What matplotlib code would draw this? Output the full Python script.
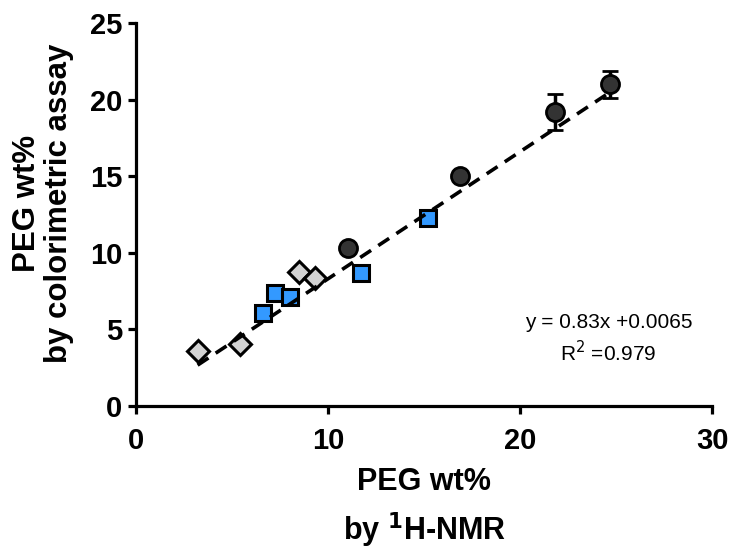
import numpy as np
import matplotlib.pyplot as plt

plt.rcParams['font.family'] = ['Liberation Sans', 'DejaVu Sans']

# grey diamonds
dia_x = [3.24, 5.42, 8.5, 9.32]
dia_y = [3.61, 4.05, 8.72, 8.35]

# blue squares
sq_x = [6.63, 7.24, 8.02, 11.72, 15.19]
sq_y = [6.07, 7.37, 7.11, 8.68, 12.26]

# dark circles with error bars
circ_x = [11.02, 16.87, 21.82, 24.65]
circ_y = [10.3, 15.02, 19.2, 21.0]
circ_err = [0, 0, 1.15, 0.9]

# linear fit
slope = 0.83
intercept = 0.0065
fit_range = [3.2, 24.6]

fig = plt.figure(figsize=(7.32, 5.5), dpi=100)
ax = fig.add_axes([0.186, 0.262, 0.787, 0.696])

fx = np.array(fit_range)
ax.plot(fx, slope * fx + intercept, color='black', lw=2.6,
        linestyle=(0, (3.6, 2.4)), zorder=4)

ax.errorbar(circ_x, circ_y, yerr=circ_err, fmt='o', ms=13, mfc='#333333',
            mec='black', mew=2, ecolor='black', elinewidth=2.5, capsize=6,
            capthick=2.5, zorder=3)
ax.plot(sq_x, sq_y, 's', ms=12, mfc='#3399ff', mec='black', mew=2.2, zorder=3)
ax.plot(dia_x, dia_y, 'D', ms=11, mfc='#d3d3d3', mec='black', mew=2.2, zorder=3)

ax.set_xlim(0, 30)
ax.set_ylim(0, 25)
ax.set_xticks([0, 10, 20, 30])
ax.set_yticks([0, 5, 10, 15, 20, 25])

for s in ['top', 'right']:
    ax.spines[s].set_visible(False)
for s in ['left', 'bottom']:
    ax.spines[s].set_linewidth(2.3)
ax.tick_params(width=2.3, length=6, labelsize=21)
ax.tick_params(axis='x', pad=9)
ax.tick_params(axis='y', pad=4)
for lab in ax.get_xticklabels() + ax.get_yticklabels():
    lab.set_fontweight('bold')

ax.set_xlabel('PEG wt%\nby $\\mathbf{^{1}}$H-NMR', fontsize=22, fontweight='bold',
              linespacing=1.45, labelpad=9)
ax.set_ylabel('PEG wt%\nby colorimetric assay', fontsize=22.5, fontweight='bold',
              linespacing=1.1)
ax.yaxis.set_label_coords(-0.108, 0.53)

ax.text(24.6, 5.45, 'y = 0.83x +0.0065', fontsize=15, ha='center', va='center')
ax.text(24.6, 3.5, 'R$^2$ =0.979', fontsize=15, ha='center', va='center')

fig.savefig('out.png', dpi=100)
